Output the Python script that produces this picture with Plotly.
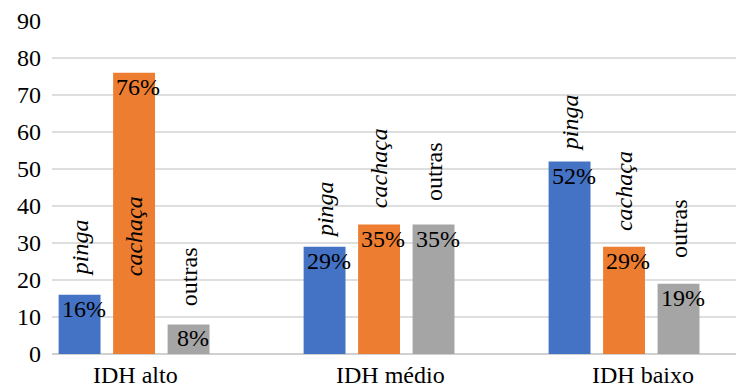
import plotly.graph_objects as go

# Categories and series
groups = ["IDH alto", "IDH médio", "IDH baixo"]
series_names = ["pinga", "cachaça", "outras"]
pinga = [16, 29, 52]
cachaca = [76, 35, 29]
outras = [8, 35, 19]
values = [pinga, cachaca, outras]

# Height (in axis units) where each rotated series name starts, per group
name_pos = [
    [20.5, 30.8, 54.3],
    [20.5, 38.9, 32.7],
    [12.4, 40.8, 25.4],
]
name_italic = [True, True, False]

colors = ["#4472C4", "#ED7D31", "#A5A5A5"]
y_ticks = list(range(0, 100, 10))

FONT = "Liberation Serif"
FS = 24

slot = 0.2224      # distance between neighbouring bars of a group
bar_w = 0.171      # bar width in axis units
group_x = list(range(len(groups)))

fig = go.Figure()
annotations = []
for s, name in enumerate(series_names):
    xs = [g + (s - 1) * slot for g in group_x]
    fig.add_trace(go.Bar(
        x=xs, y=values[s], width=bar_w, name=name,
        marker=dict(color=colors[s], line=dict(width=0)),
        showlegend=False, hoverinfo="skip",
    ))
    for g, x in enumerate(xs):
        # value label just under the bar top
        annotations.append(dict(
            x=x, y=values[s][g], xref="x", yref="y",
            text=f"{values[s][g]}%", showarrow=False,
            xanchor="center", yanchor="top", xshift=4, yshift=1,
            font=dict(family=FONT, size=FS, color="#000000"),
        ))
        # rotated series name
        label = f"<i>{name}</i>" if name_italic[s] else name
        annotations.append(dict(
            x=x, y=name_pos[s][g], xref="x", yref="y",
            text=label, showarrow=False, textangle=-90,
            xanchor="center", yanchor="bottom",
            font=dict(family=FONT, size=FS, color="#000000"),
        ))

# category labels under each group
cat_shift = [1, 11, 19]
for g, name in enumerate(groups):
    annotations.append(dict(
        x=group_x[g], y=0, xref="x", yref="y",
        text=name, showarrow=False,
        xanchor="center", yanchor="top", xshift=cat_shift[g], yshift=-6,
        font=dict(family=FONT, size=FS, color="#000000"),
    ))

fig.update_layout(
    width=736, height=387,
    margin=dict(l=52, r=0, t=21, b=33),
    paper_bgcolor="white", plot_bgcolor="white",
    barmode="overlay",
    annotations=annotations,
    font=dict(family=FONT),
    xaxis=dict(
        range=[-0.335, 2.457], showticklabels=False, showgrid=False,
        zeroline=False, showline=False, fixedrange=True,
    ),
    yaxis=dict(
        range=[0, 90], tickvals=y_ticks, ticktext=[str(v) for v in y_ticks],
        showgrid=True, gridcolor="#dedede", gridwidth=1.5,
        zeroline=True, zerolinecolor="#d0d0d0", zerolinewidth=1.5,
        showline=False, ticks="", ticklabelstandoff=10,
        tickfont=dict(family=FONT, size=FS, color="#000000"),
        fixedrange=True,
    ),
)

fig.write_html("out.html")
